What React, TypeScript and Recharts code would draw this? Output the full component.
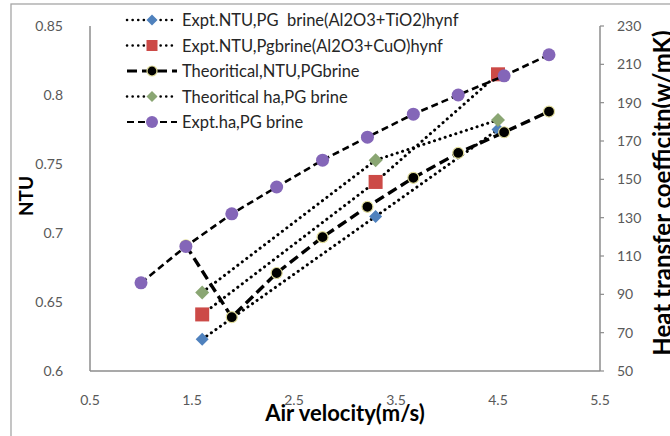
import React from 'react';
import { ComposedChart, Scatter, XAxis, YAxis, Legend } from 'recharts';

// ---------- data ----------
const xTicks = [0.5, 1.5, 2.5, 3.5, 4.5, 5.5];
const ntuTicks = [0.6, 0.65, 0.7, 0.75, 0.8, 0.85];
const hTicks = [50, 70, 90, 110, 130, 150, 170, 190, 210, 230];

const exptVelocity = [1.6, 3.3, 4.5];
const exptNtuTiO2 = [0.623, 0.712, 0.775];
const exptNtuCuO = [0.641, 0.737, 0.815];
const theoHa = [91, 160, 181];

const theoNtuVelocity = [1.44, 1.89, 2.33, 2.78, 3.22, 3.67, 4.11, 4.56, 5.0];
const theoNtu = [0.691, 0.639, 0.671, 0.697, 0.719, 0.74, 0.758, 0.773, 0.788];

const exptHaVelocity = [1.0, 1.44, 1.89, 2.33, 2.78, 3.22, 3.67, 4.11, 4.56, 5.0];
const exptHa = [96, 115, 132, 146, 160, 172, 184, 194, 204, 215];

const seriesNames = [
  'Expt.NTU,PG  brine(Al2O3+TiO2)hynf',
  'Expt.NTU,Pgbrine(Al2O3+CuO)hynf',
  'Theoritical,NTU,PGbrine',
  'Theoritical ha,PG brine',
  'Expt.ha,PG brine',
];

// ---------- styles ----------
const FONT = "Lato, 'Open Sans', sans-serif";
const AXIS = '#8c8c8c';
const DOT = { stroke: '#000', strokeWidth: 3, strokeDasharray: '0.1 5.5', strokeLinecap: 'round' as const };
const DASH_H = { stroke: '#000', strokeWidth: 2.6, strokeDasharray: '7 4' };
const DASH_T = { stroke: '#000', strokeWidth: 3.4, strokeDasharray: '10 5' };

const BLUE = '#4F81BD';
const RED = '#CC4A47';
const GREEN = '#8AA673';
const PURPLE = '#8466B8';

type MK = 'diamond' | 'square' | 'circle' | 'blackCircle';

function Marker({ kind, cx, cy, color, s }: { kind: MK; cx: number; cy: number; color: string; s: number }) {
  if (kind === 'diamond')
    return <path d={`M${cx},${cy - s}L${cx + s},${cy}L${cx},${cy + s}L${cx - s},${cy}Z`} fill={color} />;
  if (kind === 'square') return <rect x={cx - s} y={cy - s} width={2 * s} height={2 * s} fill={color} />;
  if (kind === 'blackCircle')
    return <circle cx={cx} cy={cy} r={s} fill="#000" stroke="#e0dc9a" strokeWidth={1.2} />;
  return <circle cx={cx} cy={cy} r={s} fill={color} />;
}

const legendStyles = [
  { kind: 'diamond' as MK, color: BLUE, line: DOT, s: 5.5 },
  { kind: 'square' as MK, color: RED, line: DOT, s: 5.5 },
  { kind: 'blackCircle' as MK, color: '#000', line: DASH_T, s: 5 },
  { kind: 'diamond' as MK, color: GREEN, line: DOT, s: 5.5 },
  { kind: 'circle' as MK, color: PURPLE, line: DASH_H, s: 6 },
];

function T({ x, y, anchor = 'middle', size = 14, weight = 400, fill = '#595959', rotate = 0, children }: any) {
  return (
    <text
      x={x}
      y={y}
      transform={rotate ? `rotate(${rotate} ${x} ${y})` : undefined}
      textAnchor={anchor}
      fontSize={size}
      fontWeight={weight}
      fill={fill}
      fontFamily={FONT}
      style={{ whiteSpace: 'pre' }}
    >
      {children}
    </text>
  );
}

const XTick = (p: any) => (
  <T x={p.x} y={p.y + 34} anchor="middle" size={14}>
    {String(p.payload.value)}
  </T>
);
const LTick = (p: any) => (
  <T x={p.x - 27} y={p.y + 5} anchor="end" size={14}>
    {String(p.payload.value)}
  </T>
);
const RTick = (p: any) => (
  <T x={p.x + 13} y={p.y + 5} anchor="start" size={14}>
    {String(p.payload.value)}
  </T>
);

function LegendBox() {
  return (
    <svg width={360} height={130} style={{ overflow: 'visible' }}>
      {seriesNames.map((name, i) => {
        const st = legendStyles[i];
        const y = 12 + i * 25.5;
        return (
          <g key={name}>
            <line x1={7} y1={y} x2={57} y2={y} {...st.line} strokeWidth={st.line.strokeWidth * 0.85} />
            <Marker kind={st.kind} cx={32} cy={y} color={st.color} s={st.s} />
            <T x={62} y={y + 6} anchor="start" size={16.5} fill="#262626">
              {name}
            </T>
          </g>
        );
      })}
    </svg>
  );
}

const toPts = (xs: number[], ys: number[]) => xs.map((x, i) => ({ x, y: ys[i] }));
const shapeOf = (kind: MK, color: string, s: number) => (p: any) => (
  <Marker kind={kind} cx={p.cx} cy={p.cy} color={color} s={s} />
);

export default function App() {
  return (
    <div style={{ position: 'relative', width: 670, height: 436, overflow: 'hidden', background: '#fff' }}>
      <style>{`body{margin:0}`}</style>
      <ComposedChart width={670} height={436} margin={{ top: 26, right: 0, bottom: 0, left: 0 }}>
        <XAxis
          type="number"
          dataKey="x"
          domain={[0.5, 5.5]}
          ticks={xTicks}
          interval={0}
          allowDataOverflow
          height={65}
          tickLine={false}
          tickSize={0}
          tickMargin={0}
          axisLine={{ stroke: AXIS, strokeWidth: 1.5 }}
          tick={(p: any) => <XTick {...p} />}
        />
        <YAxis
          yAxisId="ntu"
          type="number"
          dataKey="y"
          domain={[0.6, 0.85]}
          ticks={ntuTicks}
          interval={0}
          allowDataOverflow
          width={90}
          tickLine={false}
          tickSize={0}
          tickMargin={0}
          axisLine={{ stroke: AXIS, strokeWidth: 1.5 }}
          tick={(p: any) => <LTick {...p} />}
        />
        <YAxis
          yAxisId="h"
          orientation="right"
          type="number"
          dataKey="y"
          domain={[50, 230]}
          ticks={hTicks}
          interval={0}
          allowDataOverflow
          width={70}
          tickSize={4}
          tickMargin={0}
          tickLine={{ stroke: AXIS, strokeWidth: 1.2 }}
          axisLine={{ stroke: AXIS, strokeWidth: 1.5 }}
          tick={(p: any) => <RTick {...p} />}
        />
        <Scatter
          name={seriesNames[0]}
          yAxisId="ntu"
          data={toPts(exptVelocity, exptNtuTiO2)}
          fill={BLUE}
          line={DOT}
          lineType="joint"
          shape={shapeOf('diamond', BLUE, 6.5)}
          isAnimationActive={false}
        />
        <Scatter
          name={seriesNames[1]}
          yAxisId="ntu"
          data={toPts(exptVelocity, exptNtuCuO)}
          fill={RED}
          line={DOT}
          lineType="joint"
          shape={shapeOf('square', RED, 7)}
          isAnimationActive={false}
        />
        <Scatter
          name={seriesNames[2]}
          yAxisId="ntu"
          data={toPts(theoNtuVelocity, theoNtu)}
          fill="#000"
          line={DASH_T}
          lineType="joint"
          shape={shapeOf('blackCircle', '#000', 5.5)}
          isAnimationActive={false}
        />
        <Scatter
          name={seriesNames[3]}
          yAxisId="h"
          data={toPts(exptVelocity, theoHa)}
          fill={GREEN}
          line={DOT}
          lineType="joint"
          shape={shapeOf('diamond', GREEN, 7)}
          isAnimationActive={false}
        />
        <Scatter
          name={seriesNames[4]}
          yAxisId="h"
          data={toPts(exptHaVelocity, exptHa)}
          fill={PURPLE}
          line={DASH_H}
          lineType="joint"
          shape={shapeOf('circle', PURPLE, 6.5)}
          isAnimationActive={false}
        />
        <Legend
          layout="vertical"
          align="center"
          verticalAlign="middle"
          content={() => <LegendBox />}
          wrapperStyle={{ position: 'absolute', left: 120, top: 8, width: 360, height: 130 }}
        />
      </ComposedChart>
      <svg width={670} height={436} style={{ position: 'absolute', left: 0, top: 0, pointerEvents: 'none' }}>
        <rect x={11} y={4} width={700} height={500} fill="none" stroke="#a6a6a6" strokeWidth={1.3} />
        <T x={33} y={196} anchor="middle" size={19} weight={700} fill="#000" rotate={-90}>
          NTU
        </T>
        <T x={345} y={421} anchor="middle" size={22} weight={700} fill="#000">
          Air velocity(m/s)
        </T>
        <T x={671} y={193} anchor="middle" size={24} weight={700} fill="#000" rotate={-90}>
          Heat transfer coefficitn(w/mK)
        </T>
      </svg>
    </div>
  );
}
